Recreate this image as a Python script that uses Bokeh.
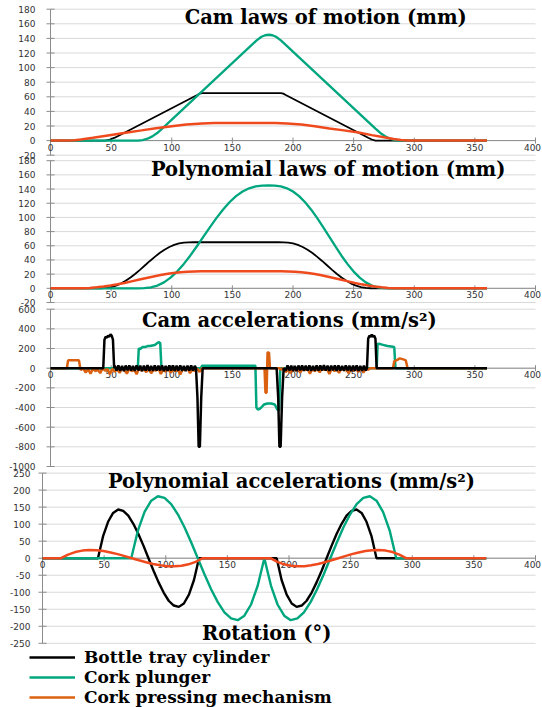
import math
from bokeh.plotting import figure
from bokeh.models import Range1d, Label, Legend, LegendItem
from bokeh.core.properties import value
from bokeh.embed import file_html
from bokeh.resources import INLINE

# ---------------- data ----------------
X_TICKS = [0, 50, 100, 150, 200, 250, 300, 350, 400]
Y_TICKS_POS = [-20, 0, 20, 40, 60, 80, 100, 120, 140, 160, 180]
Y_TICKS_CAM_ACC = [-1000, -800, -600, -400, -200, 0, 200, 400, 600]
Y_TICKS_POLY_ACC = [-250, -200, -150, -100, -50, 0, 50, 100, 150, 200, 250]

SERIES = ["Bottle tray cylinder", "Cork plunger", "Cork pressing mechanism"]
TITLES = ["Cam laws of motion (mm)", "Polynomial laws of motion (mm)",
          "Cam accelerations (mm/s\u00b2)", "Polynomial accelerations (mm/s\u00b2)"]
X_TITLE = "Rotation (\u00b0)"

# Panel 1: cam laws of motion
cam_black_x = [0, 45, 49, 53, 121, 123, 125, 190, 192, 194, 262, 265, 268, 360]
cam_black_y = [0, 0, 1.5, 4, 62.5, 64.3, 65, 65, 64.3, 62.5, 4, 1.5, 0, 0]
cam_green_x = [0, 72, 76, 80, 84, 88, 91, 170, 174, 177, 180, 183, 186, 190, 268, 272, 276, 280, 284, 287, 360]
cam_green_y = [0, 0, 0.7, 2.6, 5.8, 10.4, 14.7, 137.3, 142.2, 144.3, 145, 144.3, 142.2, 137.3, 16.4, 10.5, 5.9, 2.6, 0.6, 0, 0]
cam_orange_x = [0, 15, 20, 25, 35, 50, 62, 75, 87, 100, 112, 125, 135, 185, 195, 207, 218, 230, 242, 254, 265, 275, 283, 289, 295, 360]
cam_orange_y = [0, 0, 0.4, 1.5, 4, 7.8, 10.8, 14, 17, 19.8, 22, 23.5, 24, 24, 23.5, 22, 19.8, 16.5, 14, 11, 7.5, 4.5, 2.2, 0.8, 0, 0]

# Panel 2: polynomial laws of motion
pol_black_x = [0, 38, 42, 46, 50, 54, 58, 62, 66, 70, 74, 78, 82, 86, 90, 94, 98, 102, 106, 110, 114, 118,
               188, 192, 196, 200, 204, 208, 212, 216, 220, 224, 228, 232, 236, 240, 244, 248, 252, 256, 260, 264, 268, 360]
pol_black_y = [0, 0, 0.1, 0.6, 1.7, 3.8, 6.7, 10.6, 15.3, 20.6, 26.4, 32.5, 38.6, 44.4, 49.7, 54.4, 58.3, 61.2, 63.3, 64.4, 64.9, 65,
               65, 64.9, 64.4, 63.3, 61.2, 58.3, 54.4, 49.7, 44.4, 38.6, 32.5, 26.4, 20.6, 15.3, 10.6, 6.7, 3.8, 1.7, 0.6, 0.1, 0, 0]
pol_green_x = [0, 72, 77.4, 82.8, 88.2, 93.6, 99, 104.4, 109.8, 115.2, 120.6, 126, 131.4, 136.8, 142.2, 147.6, 153, 158.4, 163.8, 169.2, 174.6, 180,
               185, 190, 195, 200, 205, 210, 215, 220, 225, 230, 235, 240, 245, 250, 255, 260, 265, 270, 275, 280, 360]
pol_green_y = [0, 0, 0.2, 1.2, 3.9, 8.4, 15, 23.6, 34.1, 46, 59, 72.5, 86, 99, 110.9, 121.4, 130, 136.6, 141.1, 143.8, 144.8, 145,
               144.8, 143.8, 141.1, 136.6, 130, 121.4, 110.9, 99, 86, 72.5, 59, 46, 34.1, 23.6, 15, 8.4, 3.9, 1.2, 0.2, 0, 0]
pol_orange_x = [0, 15, 20.75, 26.5, 32.25, 38, 43.75, 49.5, 55.25, 61, 66.75, 72.5, 78.25, 84, 89.75, 95.5, 101.25, 107, 112.75, 118.5, 124.25, 130,
                185, 190.5, 196, 201.5, 207, 212.5, 218, 223.5, 229, 234.5, 240, 245.5, 251, 256.5, 262, 267.5, 273, 278.5, 284, 289.5, 295, 360]
pol_orange_y = [0, 0, 0.03, 0.2, 0.6, 1.4, 2.5, 3.9, 5.6, 7.6, 9.8, 12, 14.2, 16.4, 18.4, 20.1, 21.5, 22.6, 23.4, 23.8, 24, 24,
                24, 24, 23.8, 23.4, 22.6, 21.5, 20.1, 18.4, 16.4, 14.2, 12, 9.8, 7.6, 5.6, 3.9, 2.5, 1.4, 0.6, 0.2, 0.03, 0, 0]

# Panel 3: cam accelerations
cacc_black_x = [0, 43.5, 44.5, 45.5, 46.5, 47.5, 48.5, 49.5, 50.5, 51.5, 52.5,
                53, 54.5, 56, 57.5, 59, 60.5, 62, 63.5, 65, 66.5, 68, 69.5, 71, 72.5, 74, 75.5, 77, 78.5, 80, 81.5,
                83, 84.5, 86, 87.5, 89, 90.5, 92, 93.5, 95, 96.5, 98, 99.5, 101, 102.5, 104, 105.5, 107, 108.5, 110, 111.5,
                113, 114.5, 116, 117.5, 119,
                120, 121.2, 122.2, 123.2, 124.3, 125.5, 186.5, 187.8, 188.8, 189.8, 191, 192.3,
                194, 195.5, 197, 198.5, 200, 201.5, 203, 204.5, 206, 207.5, 209, 210.5, 212, 213.5, 215, 216.5, 218, 219.5,
                221, 222.5, 224, 225.5, 227, 228.5, 230, 231.5, 233, 234.5, 236, 237.5, 239, 240.5, 242, 243.5, 245, 246.5,
                248, 249.5, 251, 252.5, 254, 255.5, 257, 258.5, 260,
                261, 262, 263, 264, 265, 266, 267, 268, 269, 360]
cacc_black_y = [0, 0, 290, 320, 310, 330, 320, 345, 330, 290, 0,
                26, -24, 28, -27, 23, -29, 27, -22, 29, -25, 24, -28, 28, -23, 26, -30, 25, -24, 30, -26,
                23, -28, 28, -25, 26, -23, 29, -29, 24, -26, 27, -24, 28, -28, 25, -23, 29, -26, 24, -29,
                26, -25, 27, -24, 23,
                0, -300, -800, -800, -300, 0, 0, -300, -800, -800, -300, 0,
                -25, 28, -23, 26, -27, 24, -29, 27, -22, 28, -26, 25, -24, 29, -27, 23, -26, 28,
                -25, 27, -23, 30, -24, 26, -28, 25, -22, 27, -26, 29, -25, 24, -27, 28, -23, 26,
                -29, 25, -24, 27, -26, 23, -28, 26, -24,
                0, 300, 330, 320, 340, 320, 330, 300, 0, 0]
cacc_green_x = [0, 72, 72.8, 74, 76, 78, 80, 82, 84, 86, 88, 89.5, 90.5, 91.5, 124, 125, 169, 169.8, 171, 173,
                176, 179, 182, 185, 187, 188.5, 189.5, 269, 269.8, 272, 275, 278, 281, 283.5, 284.5, 360]
cacc_green_y = [0, 0, 200, 195, 215, 215, 225, 225, 230, 235, 255, 265, 255, 0, 0, 25, 25, -400, -420, -410,
                -370, -360, -360, -370, -420, -430, 0, 0, 250, 245, 235, 225, 220, 215, 0, 0]
cacc_orange_x = [0, 13.5, 14.5, 23.5, 24.5,
                 25, 27, 29, 31, 33, 35, 37, 39, 41, 43, 45, 47, 49, 51, 53, 55, 57, 59, 61, 63, 65, 67, 69, 71, 73,
                 75, 77, 79, 81, 83, 85, 87, 89, 91, 93, 95, 97, 99, 101, 103, 105, 107, 109, 111, 113, 115, 117, 119, 121, 123,
                 125, 176.5, 177.3, 178.2, 179, 180.2, 181, 189,
                 190, 192, 194, 196, 198, 200, 202, 204, 206, 208, 210, 212, 214, 216, 218, 220, 222, 224, 226, 228,
                 230, 232, 234, 236, 238, 240, 242, 244, 246, 248, 250, 252, 254, 256, 258, 260, 262,
                 264, 282.5, 283.5, 286, 288, 291, 293, 294.5, 360]
cacc_orange_y = [0, 0, 80, 80, 0,
                 -20, 0, -45, -10, -55, -5, -30, -15, -50, 0, -25, -10, -60, -5, -35, -12, -48, 0, -22, -55,
                 -5, -30, -15, -62, 0, -25, -10, -40, -3, -52, -15, -25, 0, -58, -10, -35, -2, -45, -15, -30,
                 -5, -65, -12, -20, 0, -50, -15, -28, -5, -38,
                 0, 0, -250, -250, 160, 160, 0, 0,
                 -15, 0, -40, -10, -50, -5, -25, -12, -45, 0, -20, -8, -55, -3, -30, -10, -42, 0, -18, -5,
                 -60, -2, -28, -12, -48, 0, -20, -6, -52, -3, -25, -10, -38, 0, -45, -8, -15,
                 0, 0, 70, 85, 100, 90, 80, 0, 0]

# Panel 4: polynomial accelerations
acc_black_x = [0, 45, 49.1, 53.2, 57.3, 61.4, 65.5, 69.6, 73.7, 77.8, 81.9, 86, 90.1, 94.2, 98.3, 102.4, 106.5, 110.6, 114.7, 118.8, 122.9, 127,
               190, 194, 198.1, 202.2, 206.2, 210.3, 214.3, 218.4, 222.4, 226.5, 230.5, 234.6, 238.6, 242.7, 246.7, 250.8, 254.8, 258.9, 262.9, 267, 271, 360]
acc_black_y = [0, 0, 64, 107, 133, 143, 139, 125, 101, 71, 37, 0, -37, -71, -101, -125, -139, -143, -133, -107, -64, 0,
               0, -64, -107, -133, -143, -139, -125, -101, -71, -37, 0, 37, 71, 101, 125, 139, 143, 133, 107, 64, 0, 0]
acc_green_x = [0, 72, 77.4, 82.8, 88.2, 93.6, 99, 104.4, 109.8, 115.2, 120.6, 126, 131.4, 136.8, 142.2, 147.6, 153, 158.4, 163.8, 169.2, 174.6, 180,
               185.4, 190.7, 196.1, 201.4, 206.8, 212.1, 217.5, 222.8, 228.2, 233.5, 238.9, 244.2, 249.6, 254.9, 260.3, 265.6, 271, 276.3, 281.7, 287, 360]
acc_green_y = [0, 0, 81, 136, 169, 182, 177, 159, 129, 91, 47, 0, -47, -91, -129, -159, -177, -182, -169, -136, -81, 0,
               -81, -136, -169, -182, -177, -159, -129, -91, -47, 0, 47, 91, 129, 159, 177, 182, 169, 136, 81, 0, 0]
acc_orange_x = [0, 15, 20.75, 26.5, 32.25, 38, 43.75, 49.5, 55.25, 61, 66.75, 72.5, 78.25, 84, 89.75, 95.5, 101.25, 107, 112.75, 118.5, 124.25, 130,
                185, 190.5, 196, 201.5, 207, 212.5, 218, 223.5, 229, 234.5, 240, 245.5, 251, 256.5, 262, 267.5, 273, 278.5, 284, 289.5, 295, 360]
acc_orange_y = [0, 0, 10.7, 18, 22.3, 24, 23.4, 21, 17, 12, 6.2, 0, -6.2, -12, -17, -21, -23.4, -24, -22.3, -18, -10.7, 0,
                0, -10.7, -18, -22.3, -24, -23.4, -21, -17, -12, -6.2, 0, 6.2, 12, 17, 21, 23.4, 24, 22.3, 18, 10.7, 0, 0]

# ---------------- layout / style ----------------
W, H = 542, 707
BLACK = "#000000"
GREEN = "#00a67e"
RED_ORANGE = "#ef4a1e"
ORANGE = "#db6010"
GRID = "#d9d9d9"
AXIS = "#8c8c8c"
LABEL = "#333333"
TITLE_FONT = "DejaVu Serif"
TICK_FONT = "DejaVu Sans"

# canvas pixel positions of x=0 and x=400 (panels 1-3, panel 4)
X0_MAIN, X400_MAIN = 50, 535
X0_P4, X400_P4 = 42, 535


def xrange_for(x0px, x400px):
    s = (x400px - x0px) / 400.0
    return Range1d(start=-x0px / s, end=(W - x0px) / s)


def yrange_for(lo, hi, top_px, bot_px):
    u = (hi - lo) / (bot_px - top_px)
    return Range1d(start=lo - (H - bot_px) * u, end=hi + top_px * u)


p = figure(width=W, height=H, output_backend="svg", toolbar_location=None, tools="",
           x_range=xrange_for(X0_MAIN, X400_MAIN), y_range=Range1d(0, 1),
           x_axis_type=None, y_axis_type=None, min_border=0)
p.outline_line_color = None
p.background_fill_color = "white"
p.border_fill_color = "white"

p.extra_x_ranges = {"x4": xrange_for(X0_P4, X400_P4)}
p.extra_y_ranges = {
    "p1": yrange_for(-20, 180, 8.7, 154.7),
    "p2": yrange_for(-20, 180, 160.2, 302),
    "p3": yrange_for(-1000, 600, 308.7, 466),
    "p4": yrange_for(-250, 250, 472.6, 642.8),
}


def draw_axes(yname, xname, yticks, ylab_offset):
    kw = dict(y_range_name=yname)
    if xname:
        kw["x_range_name"] = xname
    n = len(yticks)
    lo, hi = yticks[0], yticks[-1]
    p.segment(x0=[X_TICKS[0]] * n, x1=[X_TICKS[-1]] * n, y0=yticks, y1=yticks,
              line_color=GRID, line_width=1, **kw)
    p.segment(x0=[0], x1=[0], y0=[lo], y1=[hi], line_color=AXIS, line_width=1, **kw)
    p.scatter(x=[0] * n, y=yticks, marker="dash", size=8, line_color=AXIS, line_width=1, **kw)
    p.segment(x0=[X_TICKS[0]], x1=[X_TICKS[-1]], y0=[0], y1=[0], line_color=AXIS, line_width=1, **kw)
    p.scatter(x=X_TICKS, y=[0] * len(X_TICKS), marker="dash", angle=math.pi / 2, size=6,
              line_color=AXIS, line_width=1, **kw)
    p.text(x=[0] * n, y=yticks, text=[str(v) for v in yticks], text_align="right",
           text_baseline="middle", x_offset=ylab_offset, text_font=value(TICK_FONT),
           text_font_size="9px", text_color=LABEL, **kw)
    # last label (at the right edge) nudged left so that it stays readable
    xoffs = [0] * (len(X_TICKS) - 1) + [-3]
    p.text(x=X_TICKS, y=[0] * len(X_TICKS), text=[str(v) for v in X_TICKS], text_align="center",
           text_baseline="top", y_offset=3, x_offset=xoffs, text_font=value(TICK_FONT),
           text_font_size="9px", text_color=LABEL, **kw)


draw_axes("p1", None, Y_TICKS_POS, -15)
draw_axes("p2", None, Y_TICKS_POS, -15)
draw_axes("p3", None, Y_TICKS_CAM_ACC, -15)
draw_axes("p4", "x4", Y_TICKS_POLY_ACC, -12)

# Panel 1
p.line(cam_black_x, cam_black_y, line_color=BLACK, line_width=1.8, y_range_name="p1")
p.line(cam_green_x, cam_green_y, line_color=GREEN, line_width=2.3, y_range_name="p1")
p.line(cam_orange_x, cam_orange_y, line_color=RED_ORANGE, line_width=2.5, y_range_name="p1")
# Panel 2
p.line(pol_black_x, pol_black_y, line_color=BLACK, line_width=1.8, y_range_name="p2")
p.line(pol_green_x, pol_green_y, line_color=GREEN, line_width=2.3, y_range_name="p2")
p.line(pol_orange_x, pol_orange_y, line_color=RED_ORANGE, line_width=2.5, y_range_name="p2")
# Panel 3
r_green = p.line(cacc_green_x, cacc_green_y, line_color=GREEN, line_width=2.5, y_range_name="p3")
r_orange = p.line(cacc_orange_x, cacc_orange_y, line_color=ORANGE, line_width=2.5, y_range_name="p3")
r_black = p.line(cacc_black_x, cacc_black_y, line_color=BLACK, line_width=2.5, y_range_name="p3")
# Panel 4
p.line(acc_black_x, acc_black_y, line_color=BLACK, line_width=2.4, y_range_name="p4", x_range_name="x4")
p.line(acc_green_x, acc_green_y, line_color=GREEN, line_width=2.4, y_range_name="p4", x_range_name="x4")
p.line(acc_orange_x, acc_orange_y, line_color=RED_ORANGE, line_width=2.5, y_range_name="p4", x_range_name="x4")

# Titles
title_kw = dict(text_font=TITLE_FONT, text_font_style="bold", text_font_size="19.5px",
                text_color="black", text_align="center", text_baseline="middle")
p.add_layout(Label(x=227, y=168, text=TITLES[0], y_range_name="p1", **title_kw))
p.add_layout(Label(x=229, y=168, text=TITLES[1], y_range_name="p2", **title_kw))
p.add_layout(Label(x=197, y=488, text=TITLES[2], y_range_name="p3", **title_kw))
p.add_layout(Label(x=202, y=225, text=TITLES[3], y_range_name="p4", x_range_name="x4", **title_kw))
p.add_layout(Label(x=182, y=-221, text=X_TITLE, y_range_name="p4", x_range_name="x4", **title_kw))

# Legend: one entry per row so that the row pitch follows the reference
legend_kw = dict(orientation="vertical", border_line_color=None, background_fill_alpha=0,
                 padding=0, margin=0, spacing=0, glyph_width=46, glyph_height=22,
                 label_height=22, label_standoff=9, label_text_font=TITLE_FONT,
                 label_text_font_style="bold", label_text_font_size="17px",
                 label_text_color="black")
for label, rend, loc in [(SERIES[0], r_black, (29, 39)),
                         (SERIES[1], r_green, (29, 19)),
                         (SERIES[2], r_orange, (29, -0.5))]:
    p.add_layout(Legend(items=[LegendItem(label=label, renderers=[rend])], location=loc, **legend_kw))

open("out.html", "w").write(file_html(p, INLINE))
